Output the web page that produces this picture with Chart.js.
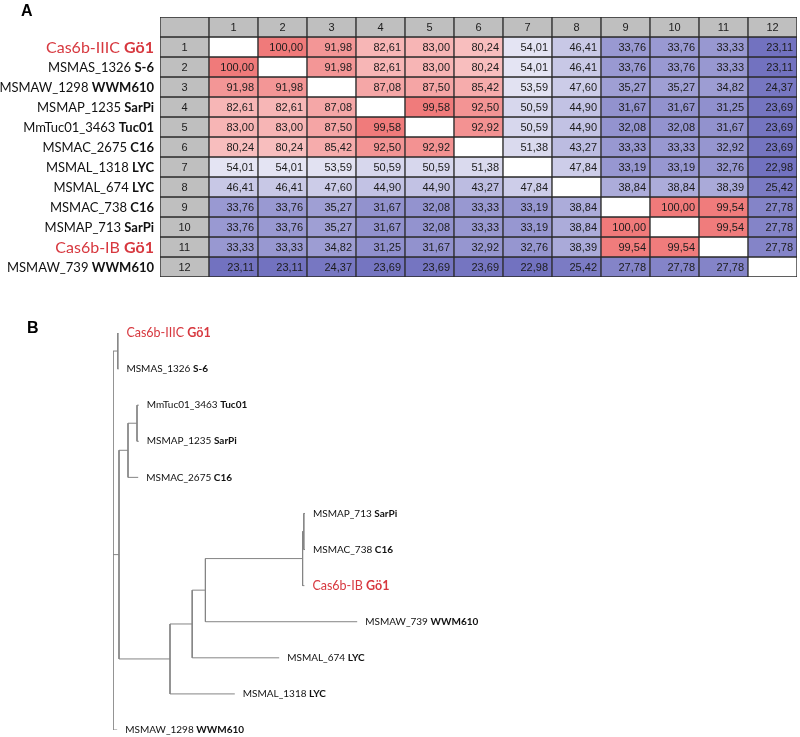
<!DOCTYPE html>
<html>
<head>
<meta charset="utf-8">
<script src="https://cdn.jsdelivr.net/npm/chart.js@4"></script>
<style>
  body { margin: 0; background: #fff; }
  #wrap { position: relative; width: 800px; height: 737px; }
  canvas { position: absolute; left: 0; }
  #heat { top: 0; }
  #tree { top: 290px; }
</style>
</head>
<body>
<div id="wrap">
  <canvas id="heat" width="800" height="290"></canvas>
  <canvas id="tree" width="800" height="447"></canvas>
</div>
<script>
// protein names and strain tags, in matrix order
const geneIds = ['Cas6b-IIIC', 'MSMAS_1326', 'MSMAW_1298', 'MSMAP_1235', 'MmTuc01_3463', 'MSMAC_2675',
  'MSMAL_1318', 'MSMAL_674', 'MSMAC_738', 'MSMAP_713', 'Cas6b-IB', 'MSMAW_739'];
const strainTags = ['Gö1', 'S-6', 'WWM610', 'SarPi', 'Tuc01', 'C16', 'LYC', 'LYC', 'C16', 'SarPi', 'Gö1', 'WWM610'];
const highlighted = [true, false, false, false, false, false, false, false, false, false, true, false];

// column headers (first one is the row-number column)
const colLabels = ['', '1', '2', '3', '4', '5', '6', '7', '8', '9', '10', '11', '12'];

// pairwise identity (%)
const identity = [
  [null, 100.00, 91.98, 82.61, 83.00, 80.24, 54.01, 46.41, 33.76, 33.76, 33.33, 23.11],
  [100.00, null, 91.98, 82.61, 83.00, 80.24, 54.01, 46.41, 33.76, 33.76, 33.33, 23.11],
  [91.98, 91.98, null, 87.08, 87.50, 85.42, 53.59, 47.60, 35.27, 35.27, 34.82, 24.37],
  [82.61, 82.61, 87.08, null, 99.58, 92.50, 50.59, 44.90, 31.67, 31.67, 31.25, 23.69],
  [83.00, 83.00, 87.50, 99.58, null, 92.92, 50.59, 44.90, 32.08, 32.08, 31.67, 23.69],
  [80.24, 80.24, 85.42, 92.50, 92.92, null, 51.38, 43.27, 33.33, 33.33, 32.92, 23.69],
  [54.01, 54.01, 53.59, 50.59, 50.59, 51.38, null, 47.84, 33.19, 33.19, 32.76, 22.98],
  [46.41, 46.41, 47.60, 44.90, 44.90, 43.27, 47.84, null, 38.84, 38.84, 38.39, 25.42],
  [33.76, 33.76, 35.27, 31.67, 32.08, 33.33, 33.19, 38.84, null, 100.00, 99.54, 27.78],
  [33.76, 33.76, 35.27, 31.67, 32.08, 33.33, 33.19, 38.84, 100.00, null, 99.54, 27.78],
  [33.33, 33.33, 34.82, 31.25, 31.67, 32.92, 32.76, 38.39, 99.54, 99.54, null, 27.78],
  [23.11, 23.11, 24.37, 23.69, 23.69, 23.69, 22.98, 25.42, 27.78, 27.78, 27.78, null]
];

// tree leaves, top to bottom (indexes into geneIds)
const leafOrder = [0, 1, 4, 3, 5, 9, 8, 10, 11, 7, 6, 2];
// tree: [branchLength, leafIndex] or [branchLength, [children]]
const tree = [0, [
  [0.008, [[0.001, 0], [0.001, 1]]],
  [0.010, [
    [0.015, [
      [0.015, [[0.003, 4], [0.003, 3]]],
      [0.017, 5]
    ]],
    [0.085, [
      [0.037, [
        [0.022, [
          [0.162, [
            [0.002, [[0.002, 9], [0.002, 8]]],
            [0.003, 10]
          ]],
          [0.253, 11]
        ]],
        [0.145, 7]
      ]],
      [0.108, 6]
    ]]
  ]],
  [0.007, 2]
]];

const red = '#d7383f';
const labelFont = 'Lato, "Open Sans", sans-serif';

// colour scale: blue (min) -> white (mid) -> red (max)
const allVals = identity.flat().filter(v => v !== null);
const vMin = Math.min(...allVals), vMax = Math.max(...allVals), vMid = (vMin + vMax) / 2;
function scaleColor(v) {
  const lo = [114, 114, 192], hi = [240, 122, 122];
  let t, c;
  if (v >= vMid) { t = (v - vMid) / (vMax - vMid); c = hi; }
  else { t = (vMid - v) / (vMid - vMin); c = lo; }
  const mix = c.map(k => Math.round(255 + (k - 255) * t));
  return `rgb(${mix[0]},${mix[1]},${mix[2]})`;
}
function cellColor(r, c) {
  if (r === 0 || c === 0) return '#bfbfbf';
  const v = identity[r - 1][c - 1];
  return v === null ? '#ffffff' : scaleColor(v);
}

function drawMixed(ctx, name, tag, x, y, size, color, align) {
  ctx.fillStyle = color;
  ctx.textBaseline = 'middle';
  ctx.font = `${size}px ${labelFont}`;
  const gap = ctx.measureText(' ').width;
  const wName = ctx.measureText(name).width;
  ctx.font = `bold ${size}px ${labelFont}`;
  const wTag = ctx.measureText(tag).width;
  const x0 = align === 'right' ? x - wTag - gap - wName : x;
  ctx.textAlign = 'left';
  ctx.font = `${size}px ${labelFont}`;
  ctx.fillText(name, x0, y);
  ctx.font = `bold ${size}px ${labelFont}`;
  ctx.fillText(tag, x0 + wName + gap, y);
}

// ---------- panel A: identity matrix ----------
const heatText = {
  id: 'heatText',
  afterDatasetsDraw(chart) {
    const ctx = chart.ctx;
    ctx.save();
    chart.data.datasets.forEach((ds, r) => {
      chart.getDatasetMeta(r).data.forEach((bar, c) => {
        const p = bar.getProps(['x', 'y', 'base', 'width'], true);
        const cy = (p.y + p.base) / 2;
        let txt = '', tx = p.x;
        ctx.textAlign = 'center';
        if (r === 0) txt = colLabels[c];
        else if (c === 0) txt = String(r);
        else {
          const v = identity[r - 1][c - 1];
          if (v !== null) {
            txt = v.toFixed(2).replace('.', ',');
            ctx.textAlign = 'right';
            tx = p.x + p.width / 2 - 4;
          }
        }
        ctx.font = '11px "Liberation Sans", Arial, sans-serif';
        ctx.fillStyle = '#1c1c1c';
        ctx.textBaseline = 'middle';
        ctx.fillText(txt, tx, cy + 1);
      });
    });
    // row names on the left
    const yScale = chart.scales.y;
    geneIds.forEach((g, i) => {
      const cy = (yScale.getPixelForValue(i + 1) + yScale.getPixelForValue(i + 2)) / 2;
      const hl = highlighted[i];
      drawMixed(ctx, g, strainTags[i], chart.chartArea.left - 6, cy + 1, hl ? 16 : 13, hl ? red : '#111', 'right');
    });
    ctx.font = 'bold 16px "Liberation Sans", Arial, sans-serif';
    ctx.fillStyle = '#000';
    ctx.textAlign = 'left';
    ctx.textBaseline = 'alphabetic';
    ctx.fillText('A', 21, 16);
    ctx.restore();
  }
};

const heatSets = [];
for (let r = 0; r <= identity.length; r++) {
  heatSets.push({
    data: colLabels.map(() => [r, r + 1]),
    backgroundColor: colLabels.map((_, c) => cellColor(r, c)),
    borderColor: '#2a2a2a',
    borderWidth: 1,
    borderSkipped: false,
    barPercentage: 1,
    categoryPercentage: 1
  });
}

new Chart(document.getElementById('heat'), {
  type: 'bar',
  data: { labels: colLabels, datasets: heatSets },
  options: {
    responsive: false,
    animation: false,
    layout: { padding: { left: 160, right: 3, top: 17, bottom: 13 } },
    plugins: { legend: { display: false }, tooltip: { enabled: false } },
    scales: {
      x: { display: false, stacked: true },
      y: { display: false, min: 0, max: identity.length + 1, reverse: true }
    }
  },
  plugins: [heatText]
});

// ---------- panel B: tree ----------
const treeSegs = [];
const leafTips = [];
function layout(node, parentX) {
  const x = parentX + node[0];
  let y;
  if (Array.isArray(node[1])) {
    const ys = node[1].map(ch => layout(ch, x));
    y = (ys[0] + ys[ys.length - 1]) / 2;
    treeSegs.push([{ x: x, y: ys[0] }, { x: x, y: ys[ys.length - 1] }]);
  } else {
    y = leafOrder.indexOf(node[1]);
    leafTips[y] = x;
  }
  if (node[0] > 0) treeSegs.push([{ x: parentX, y: y }, { x: x, y: y }]);
  return y;
}
layout(tree, 0);

const treeLabels = {
  id: 'treeLabels',
  afterDatasetsDraw(chart) {
    const { ctx, scales: { x, y } } = chart;
    ctx.save();
    leafOrder.forEach((g, i) => {
      const px = x.getPixelForValue(leafTips[i]) + 8;
      const py = y.getPixelForValue(i);
      const hl = highlighted[g];
      drawMixed(ctx, geneIds[g], strainTags[g], px, py, hl ? 12.5 : 10, hl ? red : '#111', 'left');
    });
    ctx.font = 'bold 16px "Liberation Sans", Arial, sans-serif';
    ctx.fillStyle = '#000';
    ctx.textAlign = 'left';
    ctx.textBaseline = 'alphabetic';
    ctx.fillText('B', 27, 43);
    ctx.restore();
  }
};

new Chart(document.getElementById('tree'), {
  type: 'scatter',
  data: {
    datasets: treeSegs.map(seg => ({
      data: seg,
      showLine: true,
      borderColor: '#858585',
      borderWidth: 1,
      pointRadius: 0
    }))
  },
  options: {
    responsive: false,
    animation: false,
    layout: { padding: { left: 113, right: 387, top: 43, bottom: 7 } },
    plugins: { legend: { display: false }, tooltip: { enabled: false } },
    scales: {
      x: { display: false, min: 0, max: 0.5 },
      y: { display: false, min: 0, max: leafOrder.length - 1, reverse: true }
    }
  },
  plugins: [treeLabels]
});
</script>
</body>
</html>
